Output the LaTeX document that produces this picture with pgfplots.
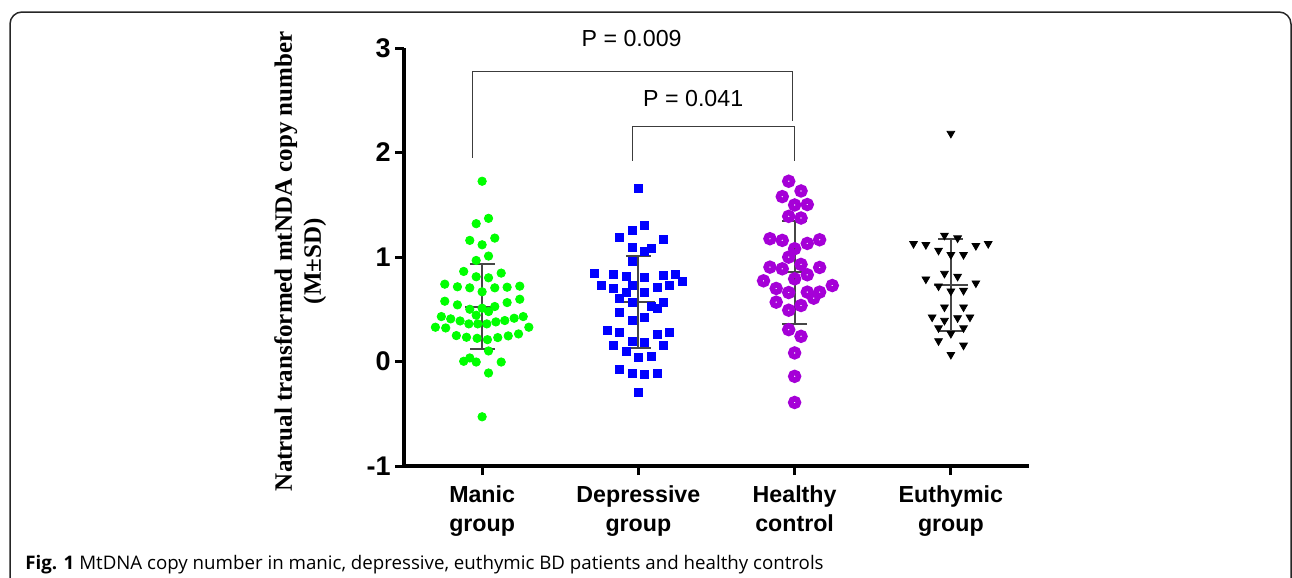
\documentclass[border=0pt]{standalone}
\usepackage{fontspec}
\setmainfont{Liberation Sans}
\newfontfamily\labelfont{Liberation Serif}
\newfontfamily\capfont{Open Sans}
\usepackage{pgfplots}
\pgfplotsset{compat=1.18}
\definecolor{mangreen}{RGB}{0,255,0}
\definecolor{depblue}{RGB}{0,0,255}
\definecolor{healthpurple}{RGB}{165,0,215}
\definecolor{errgray}{RGB}{70,70,70}
\definecolor{brgray}{RGB}{60,60,60}

\begin{document}
\begin{tikzpicture}
\useasboundingbox (0,0) rectangle (646pt,-289pt);
% figure frame (bottom edge runs off the page)
\draw[line width=0.75pt, draw=black!85, rounded corners=6pt]
  (5pt,-310pt) -- (5pt,-6pt) -- (645.5pt,-6pt) -- (645.5pt,-310pt);
\node[anchor=base west, inner sep=0pt, font=\capfont\fontsize{9.35}{11}\selectfont]
  at (12.5pt,-284.5pt) {\textbf{Fig. 1} MtDNA copy number in manic, depressive, euthymic BD patients and healthy controls};

\begin{axis}[
  at={(202pt,-233pt)}, anchor=south west,
  scale only axis, width=312.5pt, height=209pt,
  xmin=0.5, xmax=4.5, ymin=-1, ymax=3,
  axis lines=left,
  axis line style={-, line width=1.75pt, black},
  tick align=outside, major tick length=4.5pt,
  tick style={line width=1.5pt, black},
  xtick={1,2,3,4},
  xticklabels={{Manic\\group},{Depressive\\group},{Healthy\\control},{Euthymic\\group}},
  ytick={-1,0,1,2,3},
  yticklabels={-1,0,1,2,3},
  yticklabel style={font=\bfseries\fontsize{13.5}{16}\selectfont, inner sep=2pt},
  xticklabel style={font=\bfseries\fontsize{11.6}{14.5}\selectfont, align=center, yshift=-2pt},
  ylabel={Natrual transformed mtNDA copy number\\(M±SD)},
  ylabel style={font=\labelfont\bfseries\fontsize{12.5}{14.5}\selectfont, align=center,
    at={(axis description cs:-0.166,0.49)}, anchor=center},
  clip=false,
]
% manic group
\addplot[only marks, mark=*, mark size=2.1pt, color=mangreen] coordinates {
(1.000,1.725) (0.962,1.319) (1.041,1.370) (0.921,1.159) (1.000,1.117)
(1.081,1.181) (0.962,0.967) (1.041,1.009) (0.882,0.862) (0.962,0.811)
(1.041,0.801) (1.122,0.846) (0.761,0.740) (0.842,0.715) (0.921,0.705)
(1.081,0.705) (1.160,0.711) (1.241,0.721) (1.000,0.667) (0.761,0.577)
(0.842,0.542) (1.160,0.564) (1.241,0.596) (0.921,0.500) (1.000,0.510)
(1.041,0.478) (1.081,0.526) (0.962,0.443) (0.739,0.430) (0.799,0.408)
(0.859,0.388) (1.205,0.414) (1.263,0.430) (0.701,0.328) (0.767,0.321)
(0.915,0.360) (0.972,0.360) (1.030,0.360) (1.088,0.379) (1.145,0.392)
(1.299,0.328) (0.835,0.248) (0.900,0.232) (0.968,0.222) (1.034,0.209)
(1.100,0.229) (1.167,0.245) (1.233,0.264) (1.041,0.101) (0.882,0.002)
(0.921,0.034) (0.962,-0.005) (1.122,-0.005) (1.041,-0.110) (1.000,-0.529)};
% depressive group
\addplot[only marks, mark=square*, mark size=2.0pt, color=depblue] coordinates {
(2.000,1.655) (1.959,1.255) (2.041,1.300) (1.880,1.188) (2.160,1.169)
(1.959,1.092) (2.041,1.050) (2.081,1.086) (1.959,0.958) (1.720,0.843)
(1.840,0.830) (1.921,0.810) (2.041,0.804) (2.160,0.827) (2.239,0.833)
(2.280,0.764) (1.761,0.724) (1.840,0.699) (1.959,0.731) (1.921,0.662)
(2.041,0.662) (2.120,0.711) (2.199,0.724) (1.880,0.603) (1.959,0.568)
(2.081,0.532) (2.120,0.504) (2.160,0.568) (1.880,0.472) (1.959,0.398)
(2.041,0.424) (1.799,0.293) (1.880,0.277) (2.120,0.258) (2.199,0.277)
(1.840,0.152) (1.959,0.193) (1.921,0.101) (2.041,0.187) (2.160,0.152)
(2.000,0.037) (2.081,0.053) (1.880,-0.078) (1.959,-0.117) (2.041,-0.127)
(2.120,-0.110) (2.000,-0.299)};
% healthy control
\addplot[only marks, mark=o, mark size=1.9pt, color=healthpurple, mark options={line width=2.8pt}] coordinates {
(2.962,1.725) (3.041,1.632) (2.921,1.578) (3.000,1.498) (3.081,1.502)
(2.962,1.389) (3.041,1.373) (2.842,1.175) (2.921,1.159) (3.000,1.079)
(3.081,1.130) (3.160,1.165) (2.962,0.999) (2.842,0.903) (2.921,0.887)
(3.041,0.929) (3.081,0.830) (3.160,0.900) (3.000,0.791) (2.801,0.772)
(2.882,0.699) (2.962,0.660) (3.081,0.664) (3.160,0.664) (3.241,0.727)
(3.122,0.606) (2.882,0.568) (3.041,0.536) (2.962,0.491) (2.962,0.305)
(3.041,0.241) (3.000,0.082) (3.000,-0.142) (3.000,-0.392)};
% euthymic group
\addplot[only marks, mark=triangle*, mark size=2.2pt, color=black, mark options={rotate=180}] coordinates {
(4.000,2.182) (3.959,1.207) (4.043,1.181) (3.761,1.127) (3.840,1.117)
(3.921,1.063) (4.000,1.022) (4.081,1.022) (4.160,1.108) (4.239,1.127)
(3.959,0.842) (4.043,0.814) (3.840,0.788) (3.921,0.721) (4.000,0.673)
(4.081,0.679) (4.160,0.750) (3.959,0.520) (4.081,0.520) (3.880,0.424)
(3.959,0.392) (4.043,0.417) (4.122,0.424) (3.921,0.321) (4.081,0.321)
(4.000,0.267) (3.921,0.197) (4.081,0.155) (4.000,0.066)};

% mean +- SD (one point per plot, so no connecting line and no mark)
\pgfplotsset{sdbar/.style={errgray, mark=none,
  error bars/.cd, y dir=both, y explicit,
  error bar style={line width=1pt, errgray},
  error mark options={rotate=90, mark size=6.25pt, line width=1pt, errgray}}}
\addplot[sdbar] coordinates {(1,0.526) +- (0,0.403)};
\addplot[sdbar] coordinates {(2,0.568) +- (0,0.438)};
\addplot[sdbar] coordinates {(3,0.855) +- (0,0.493)};
\addplot[sdbar] coordinates {(4,0.731) +- (0,0.443)};
\addplot[errgray, line width=1pt] coordinates {(0.891,0.526) (1.109,0.526)};
\addplot[errgray, line width=1pt] coordinates {(1.891,0.568) (2.109,0.568)};
\addplot[errgray, line width=1pt] coordinates {(2.891,0.855) (3.109,0.855)};
\addplot[errgray, line width=1pt] coordinates {(3.891,0.731) (4.109,0.731)};

% significance brackets
\draw[brgray, line width=0.55pt] (axis cs:0.937,1.948) -- (axis cs:0.937,2.771)
  -- (axis cs:2.988,2.771) -- (axis cs:2.988,2.299);
\draw[brgray, line width=0.55pt] (axis cs:1.964,1.922) -- (axis cs:1.964,2.251)
  -- (axis cs:2.998,2.251) -- (axis cs:2.998,1.922);
\node[font=\fontsize{11.6}{14}\selectfont] at (axis cs:1.957,3.095) {P = 0.009};
\node[font=\fontsize{11.6}{14}\selectfont] at (axis cs:2.351,2.513) {P = 0.041};
\end{axis}
\end{tikzpicture}
\end{document}
